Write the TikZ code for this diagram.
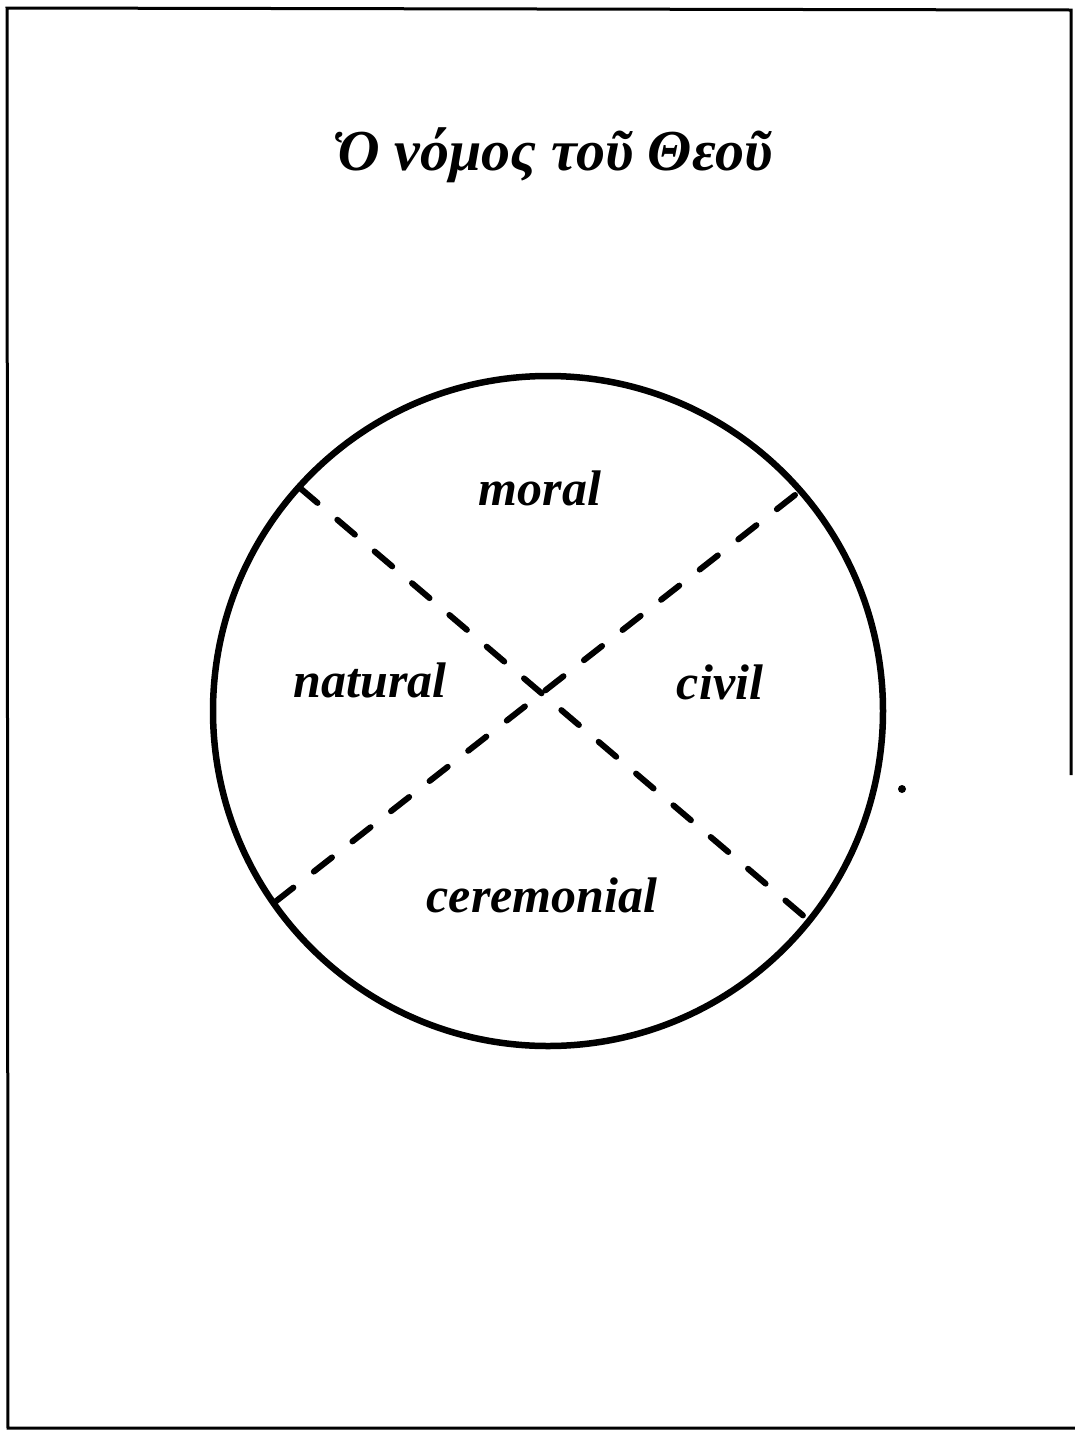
\documentclass[tikz,border=0pt]{standalone}
\usepackage{fontspec}
\setmainfont{Liberation Serif}
\begin{document}
\begin{tikzpicture}[x=1pt,y=-1pt,
  frameline/.style={line width=3pt,black},
  ring/.style={draw,line width=6.5pt,black},
  divider/.style={line width=6pt,black,line cap=round,dash pattern=on 23pt off 26pt},
  label/.style={font=\fontsize{50}{60}\selectfont\bfseries\itshape,inner sep=0pt},
  titlelabel/.style={font=\fontsize{58}{68}\selectfont\bfseries\itshape,inner sep=0pt}]
\useasboundingbox (0,0) rectangle (1075,1433);
% frame
\coordinate (ftl) at (7,8);
\coordinate (ftr) at (1071,10);
\coordinate (fbr) at (1075,1428);
\coordinate (fbl) at (8,1428);
\coordinate (frend) at (1071,775);
\draw[frameline] (frend) -- (ftr) -- (ftl) -- (fbl) -- (fbr);
% title
\node[titlelabel] (title) at (553,155) {Ὁ νόμος τοῦ Θεοῦ};
% circle
\node[ring,circle,minimum size=670pt,inner sep=0pt] (law) at (548,711) {};
% dividers
\coordinate (nw) at (300,488);
\coordinate (se) at (806,918);
\coordinate (ne) at (795,495);
\coordinate (sw) at (275,902);
\draw[divider] (nw) -- (se);
\draw[divider] (ne) -- (sw);
% labels
\node[label] (moral) at (540,488) {moral};
\node[label] (natural) at (370,680) {natural};
\node[label] (civil) at (720,682) {civil};
\node[label] (ceremonial) at (542,895) {ceremonial};
% speck
\fill (902,789) circle (4pt);
\end{tikzpicture}
\end{document}
